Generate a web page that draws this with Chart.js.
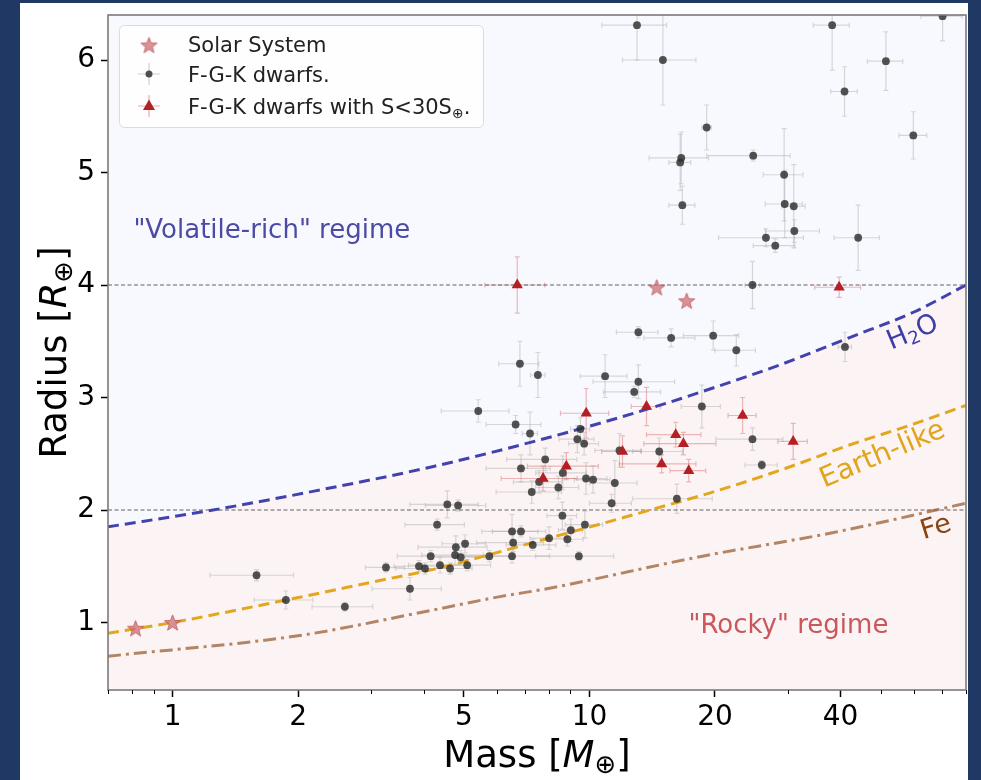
<!DOCTYPE html>
<html><head><meta charset="utf-8">
<script src="https://cdn.jsdelivr.net/npm/chart.js@4.4.1/dist/chart.umd.min.js"></script>
<style>
html,body{margin:0;padding:0;background:#1f3864;width:981px;height:780px;overflow:hidden;}
#panel{position:absolute;left:20px;top:3px;width:948px;height:777px;background:#fff;}
#c{position:absolute;left:20px;top:3px;}
</style></head><body>
<div id="panel"></div>
<canvas id="c" width="956" height="777"></canvas>
<script>
// ---------- data ----------
const solarMass   = [0.815, 1.0, 14.5, 17.1];
const solarRadius = [0.949, 1.0, 3.98, 3.86];

const dwarfMass = [13.0,15.0,19.1,16.6,16.5,16.7,24.7,29.3,29.4,30.9,31.0,26.5,27.9,44.1,38.2,51.4,40.9,59.8,70.3,24.6,
  13.1,15.7,19.8,22.5,41.0,6.81,7.52,10.9,13.1,12.8,5.41,6.65,7.20,18.6,24.6,25.9,9.51,9.35,9.71,7.83,
  6.85,8.63,7.57,7.27,8.42,9.81,10.2,11.5,11.3,14.7,11.8,16.2,4.56,4.84,4.31,6.52,6.85,6.56,8.00,7.31,
  5.03,4.78,4.76,4.91,4.16,5.75,6.52,3.90,4.03,4.38,4.63,5.09,3.25,3.71,1.59,1.87,2.59,8.61,9.02,8.85,9.75,9.43];
const dwarfRadius = [6.31,6.00,5.40,5.13,5.09,4.71,5.15,4.98,4.72,4.70,4.48,4.42,4.35,4.42,6.31,5.99,5.72,5.33,6.39,4.00,
  3.58,3.53,3.55,3.42,3.45,3.30,3.20,3.19,3.14,3.05,2.88,2.76,2.68,2.92,2.63,2.40,2.72,2.63,2.59,2.45,
  2.37,2.33,2.25,2.16,2.20,2.28,2.27,2.24,2.06,2.52,2.53,2.10,2.05,2.04,1.87,1.81,1.81,1.71,1.75,1.69,
  1.70,1.67,1.60,1.58,1.59,1.59,1.59,1.50,1.48,1.51,1.48,1.51,1.49,1.30,1.42,1.20,1.14,1.95,1.82,1.74,1.87,1.59];
const dwarfMassErr = [2.3,3.0,0.5,2.7,1.0,1.2,5.6,3.2,3.0,2.0,4.6,6.1,3.2,5.5,3.8,5.0,3.0,4.6,8.0,1.0,
  1.5,2.2,3.0,2.5,1.5,0.75,0.3,1.4,2.9,2.0,1.0,1.0,0.3,2.0,4.5,2.3,0.5,0.9,0.8,1.5,
  1.2,1.2,1.0,1.3,1.0,1.2,1.0,1.5,1.3,2.0,1.5,3.5,0.85,0.8,0.7,1.0,1.0,1.2,0.8,1.0,
  0.6,0.9,0.8,0.7,0.7,0.8,1.5,0.5,0.6,0.7,0.6,0.7,0.35,0.7,0.36,0.3,0.43,0.7,0.6,0.8,1.0,2.0];
const dwarfRadiusErr = [0.31,0.40,0.20,0.23,0.25,0.17,0.05,0.41,0.30,0.37,0.10,0.08,0.06,0.29,0.40,0.26,0.22,0.21,0.22,0.21,
  0.05,0.08,0.13,0.14,0.13,0.20,0.20,0.19,0.15,0.05,0.10,0.08,0.19,0.19,0.10,0.04,0.10,0.12,0.10,0.10,
  0.12,0.15,0.10,0.10,0.10,0.14,0.12,0.20,0.08,0.12,0.15,0.13,0.12,0.05,0.05,0.15,0.05,0.08,0.10,0.05,
  0.08,0.10,0.08,0.06,0.05,0.05,0.06,0.05,0.05,0.07,0.05,0.05,0.04,0.10,0.05,0.08,0.04,0.12,0.10,0.06,0.12,0.04];

const coolMass      = [6.71,9.82,13.7,23.3,30.8,16.1,16.8,12.0,14.9,17.3,8.80,7.74,39.7];
const coolRadius    = [4.00,2.86,2.92,2.84,2.61,2.67,2.59,2.52,2.41,2.35,2.39,2.28,3.98];
const coolMassErr   = [1.1,1.3,1.1,1.8,2.5,2.4,3.3,1.3,3.1,1.7,1.7,1.6,5.0];
const coolRadiusErr = [0.25,0.22,0.17,0.16,0.16,0.11,0.10,0.14,0.08,0.10,0.12,0.11,0.09];

const h2oMass     = [0.7, 1.25, 2.2, 4.2, 7.9, 14.0, 20.2, 29.3, 42.2, 60, 80];
const h2oRadius   = [1.85, 2.00, 2.17, 2.385, 2.64, 2.905, 3.096, 3.304, 3.535, 3.76, 4.00];
const earthMass   = [0.7, 1.0, 2.02, 3.14, 4.2, 7.9, 9.7, 14.3, 20.2, 29, 42.2, 60, 80];
const earthRadius = [0.905, 1.0, 1.225, 1.373, 1.47, 1.745, 1.835, 2.01, 2.17, 2.36, 2.58, 2.765, 2.93];
const feMass      = [0.7, 2.02, 4.2, 6.1, 7.9, 18.4, 38.5, 80];
const feRadius    = [0.70, 0.885, 1.11, 1.23, 1.30, 1.585, 1.80, 2.06];

const refRadii    = [4, 2];
const xTickValues = [0.7,0.8,0.9,1,2,3,4,5,6,7,8,9,10,20,30,40,50,60,70,80];
const xTickLabels = [1,2,5,10,20,40];
const yTickLabels = [1,2,3,4,5,6];
// -------------------------------------------------------------

const FONT = '"DejaVu Sans"';
const pts = (xs, ys) => xs.map((x, i) => ({x, y: ys[i]}));

function makeStar(r, fill, stroke) {
  const c = document.createElement('canvas');
  const s = Math.ceil(r * 2 + 4);
  c.width = s; c.height = s;
  const g = c.getContext('2d');
  g.translate(s / 2, s / 2 + r * 0.1);
  g.beginPath();
  for (let i = 0; i < 10; i++) {
    const rad = (i % 2 === 0) ? r : r * 0.42;
    const a = -Math.PI / 2 + i * Math.PI / 5;
    g.lineTo(rad * Math.cos(a), rad * Math.sin(a));
  }
  g.closePath();
  g.fillStyle = fill; g.fill();
  g.lineWidth = 1; g.strokeStyle = stroke; g.stroke();
  return c;
}
const starImg = makeStar(8.5, 'rgba(205,110,115,0.75)', 'rgba(190,90,95,0.8)');
const starImgLegend = makeStar(8.5, 'rgba(205,110,115,0.75)', 'rgba(190,90,95,0.8)');

function drawRich(ctx, parts, x, y, align, rot, color, baseline) {
  ctx.save();
  ctx.translate(x, y);
  if (rot) ctx.rotate(rot);
  ctx.fillStyle = color;
  ctx.textBaseline = baseline || 'alphabetic';
  ctx.textAlign = 'left';
  let w = 0;
  parts.forEach(p => { ctx.font = (p.style || '') + ' ' + p.size + 'px ' + FONT; p.w = ctx.measureText(p.t).width; w += p.w; });
  let cx = align === 'center' ? -w / 2 : 0;
  parts.forEach(p => { ctx.font = (p.style || '') + ' ' + p.size + 'px ' + FONT; ctx.fillText(p.t, cx, p.dy || 0); cx += p.w; });
  ctx.restore();
}

const errorBars = {
  id: 'errorBars',
  beforeDatasetsDraw(chart) {
    const {ctx, chartArea, scales: {x, y}} = chart;
    ctx.save();
    ctx.beginPath();
    ctx.rect(chartArea.left, chartArea.top, chartArea.right - chartArea.left, chartArea.bottom - chartArea.top);
    ctx.clip();
    const draw = (ms, rs, me, re, color) => {
      ctx.strokeStyle = color; ctx.lineWidth = 1.2;
      const cap = 2.5;
      ms.forEach((m, i) => {
        const px = x.getPixelForValue(m), py = y.getPixelForValue(rs[i]);
        const x0 = x.getPixelForValue(Math.max(m - me[i], 0.01)), x1 = x.getPixelForValue(m + me[i]);
        const y0 = y.getPixelForValue(rs[i] - re[i]), y1 = y.getPixelForValue(rs[i] + re[i]);
        ctx.beginPath();
        ctx.moveTo(x0, py); ctx.lineTo(x1, py);
        ctx.moveTo(x0, py - cap); ctx.lineTo(x0, py + cap);
        ctx.moveTo(x1, py - cap); ctx.lineTo(x1, py + cap);
        ctx.moveTo(px, y0); ctx.lineTo(px, y1);
        ctx.moveTo(px - cap, y0); ctx.lineTo(px + cap, y0);
        ctx.moveTo(px - cap, y1); ctx.lineTo(px + cap, y1);
        ctx.stroke();
      });
    };
    draw(dwarfMass, dwarfRadius, dwarfMassErr, dwarfRadiusErr, 'rgba(165,165,165,0.42)');
    draw(coolMass, coolRadius, coolMassErr, coolRadiusErr, 'rgba(215,90,90,0.42)');
    ctx.restore();
  }
};

const decorations = {
  id: 'decorations',
  afterDraw(chart) {
    const {ctx, chartArea: a, scales: {x, y}} = chart;
    // frame
    ctx.save();
    ctx.strokeStyle = '#7a7a7a'; ctx.lineWidth = 1.6;
    ctx.strokeRect(a.left, a.top, a.right - a.left, a.bottom - a.top);
    // minor ticks
    ctx.strokeStyle = '#000'; ctx.lineWidth = 1;
    xTickValues.forEach(v => {
      if (xTickLabels.includes(v)) return;
      const px = Math.round(x.getPixelForValue(v)) + 0.5;
      ctx.beginPath(); ctx.moveTo(px, a.bottom); ctx.lineTo(px, a.bottom + 4); ctx.stroke();
    });
    ctx.restore();

    // region labels
    drawRich(ctx, [{t: '"Volatile-rich" regime', size: 26}], x.getPixelForValue(1.73), y.getPixelForValue(4.48), 'center', 0, '#4b4ba6', 'middle');
    drawRich(ctx, [{t: '"Rocky" regime', size: 26}], x.getPixelForValue(30.0), y.getPixelForValue(0.969), 'center', 0, '#c9575c', 'middle');
    drawRich(ctx, [{t: 'H', size: 27}, {t: '2', size: 18, dy: 6}, {t: 'O', size: 27}], x.getPixelForValue(59.7), y.getPixelForValue(3.573), 'center', -0.40, '#3d3da8', 'middle');
    drawRich(ctx, [{t: 'Earth-like', size: 28}], x.getPixelForValue(50.5), y.getPixelForValue(2.489), 'center', -0.40, '#e0a51c', 'middle');
    drawRich(ctx, [{t: 'Fe', size: 27}], x.getPixelForValue(67.8), y.getPixelForValue(1.84), 'center', -0.30, '#8b4513', 'middle');

    // axis titles
    drawRich(ctx, [{t: 'Mass [', size: 37}, {t: 'M', size: 37, style: 'italic'}, {t: '⊕', size: 26, dy: 6}, {t: ']', size: 37}],
      (a.left + a.right) / 2, 764, 'center', 0, '#000');
    drawRich(ctx, [{t: 'Radius [', size: 37}, {t: 'R', size: 37, style: 'italic'}, {t: '⊕', size: 26, dy: 6}, {t: ']', size: 37}],
      46, (a.top + a.bottom) / 2, 'center', -Math.PI / 2, '#000');

    // legend
    const lx = 99, ly = 22, lw = 364, lh = 102;
    ctx.save();
    ctx.beginPath();
    ctx.roundRect(lx + 0.5, ly + 0.5, lw, lh, 5);
    ctx.fillStyle = 'rgba(255,255,255,0.8)'; ctx.fill();
    ctx.strokeStyle = '#dcdcdc'; ctx.lineWidth = 1; ctx.stroke();
    const sx = 129;
    ctx.drawImage(starImgLegend, sx - starImgLegend.width / 2, 42 - starImgLegend.height / 2);
    ctx.strokeStyle = 'rgba(165,165,165,0.5)'; ctx.lineWidth = 1.2;
    ctx.beginPath(); ctx.moveTo(sx - 11, 71); ctx.lineTo(sx + 11, 71); ctx.moveTo(sx, 60); ctx.lineTo(sx, 82); ctx.stroke();
    ctx.fillStyle = 'rgba(40,40,40,0.8)';
    ctx.beginPath(); ctx.arc(sx, 71, 3.5, 0, Math.PI * 2); ctx.fill();
    ctx.strokeStyle = 'rgba(215,90,90,0.5)';
    ctx.beginPath(); ctx.moveTo(sx - 11, 103); ctx.lineTo(sx + 11, 103); ctx.moveTo(sx, 92); ctx.lineTo(sx, 114); ctx.stroke();
    ctx.fillStyle = '#b22222';
    ctx.beginPath(); ctx.moveTo(sx, 96.5); ctx.lineTo(sx + 6, 107); ctx.lineTo(sx - 6, 107); ctx.closePath(); ctx.fill();
    ctx.restore();
    const ds = chart.data.datasets;
    drawRich(ctx, [{t: ds[0].label, size: 21}], 168, 49, 'left', 0, '#222');
    drawRich(ctx, [{t: ds[2].label, size: 21}], 168, 79, 'left', 0, '#222');
    drawRich(ctx, [{t: 'F-G-K dwarfs with S<30S', size: 21}, {t: '⊕', size: 14, dy: 4}, {t: '.', size: 21}], 168, 111, 'left', 0, '#222');
  }
};

new Chart(document.getElementById('c'), {
  type: 'scatter',
  data: {
    datasets: [
      {label: 'Solar System', data: pts(solarMass, solarRadius), pointStyle: starImg, pointRadius: 9, order: 0},
      {label: 'F-G-K dwarfs with S<30S⊕.', data: pts(coolMass, coolRadius), pointStyle: 'triangle', pointRadius: 6.5,
        backgroundColor: '#b51f24', borderColor: '#b51f24', borderWidth: 0, order: 1},
      {label: 'F-G-K dwarfs.', data: pts(dwarfMass, dwarfRadius), pointStyle: 'circle', pointRadius: 3.9,
        backgroundColor: 'rgba(45,45,45,0.82)', borderColor: 'rgba(45,45,45,0.82)', borderWidth: 0, order: 2},
      {type: 'line', label: 'H2O', data: pts(h2oMass, h2oRadius), borderColor: '#4242ad', borderWidth: 3, borderDash: [11, 6],
        pointRadius: 0, cubicInterpolationMode: 'monotone', fill: {target: 'start'}, backgroundColor: '#fcf4f4', order: 3},
      {type: 'line', label: 'H2O-above', data: pts(h2oMass, h2oRadius), borderWidth: 0, borderColor: 'rgba(0,0,0,0)',
        pointRadius: 0, cubicInterpolationMode: 'monotone', fill: {target: 'end'}, backgroundColor: '#f8f9fe', order: 4},
      {type: 'line', label: 'Earth-like', data: pts(earthMass, earthRadius), borderColor: '#e3a71e', borderWidth: 3, borderDash: [11, 6],
        pointRadius: 0, cubicInterpolationMode: 'monotone', fill: false, order: 5},
      {type: 'line', label: 'Fe', data: pts(feMass, feRadius), borderColor: 'rgba(150,85,40,0.7)', borderWidth: 3, borderDash: [13, 5, 3, 5],
        pointRadius: 0, cubicInterpolationMode: 'monotone', fill: false, order: 6},
      ...refRadii.map((r, i) => ({type: 'line', label: 'ref' + r, data: [{x: 0.7, y: r}, {x: 80, y: r}],
        borderColor: 'rgba(70,70,70,0.85)', borderWidth: 1, borderDash: [4, 2.5], pointRadius: 0, fill: false, order: 7 + i}))
    ]
  },
  options: {
    responsive: false,
    animation: false,
    layout: {padding: {top: 12, right: 4, left: 0, bottom: 0}},
    plugins: {
      legend: {display: false},
      tooltip: {enabled: false},
      filler: {drawTime: 'beforeDatasetsDraw'}
    },
    scales: {
      x: {
        type: 'logarithmic', min: 0.7, max: 80,
        afterBuildTicks: s => { s.ticks = xTickValues.map(v => ({value: v})); },
        afterFit: s => { s.height = 90; },
        ticks: {
          autoSkip: false, maxRotation: 0, minRotation: 0, padding: 4, color: '#000',
          font: {family: FONT, size: 28},
          callback: v => xTickLabels.includes(v) ? String(v) : ''
        },
        grid: {drawOnChartArea: false, tickLength: 7, tickWidth: 1.5,
          tickColor: c => (c.tick && xTickLabels.includes(c.tick.value)) ? '#000' : 'rgba(0,0,0,0)'},
        border: {display: false}
      },
      y: {
        type: 'linear', min: 0.4, max: 6.4,
        afterBuildTicks: s => { s.ticks = yTickLabels.map(v => ({value: v})); },
        afterFit: s => { s.width = 88; },
        ticks: {padding: 6, color: '#000', font: {family: FONT, size: 28, lineHeight: 0.4}},
        grid: {drawOnChartArea: false, tickLength: 7, tickWidth: 1.5, tickColor: '#000'},
        border: {display: false}
      }
    }
  },
  plugins: [errorBars, decorations]
});
</script>
</body></html>
